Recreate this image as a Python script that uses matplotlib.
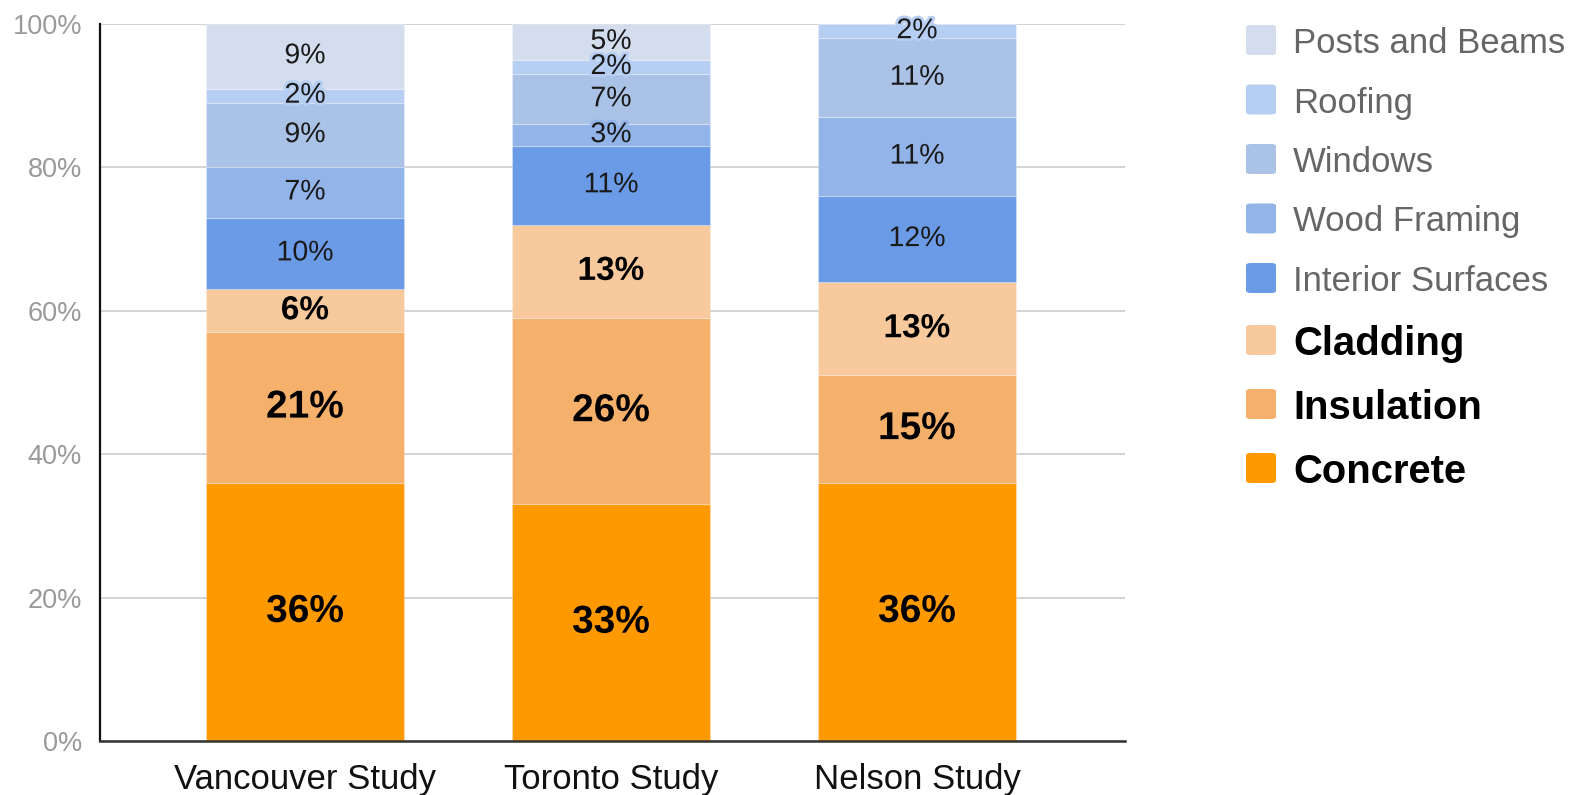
import matplotlib
matplotlib.use("Agg")
import matplotlib.pyplot as plt
import matplotlib.patheffects as pe
from matplotlib.patches import FancyBboxPatch
import numpy as np

plt.rcParams['font.family'] = ['Liberation Sans', 'DejaVu Sans']

studies = ["Vancouver Study", "Toronto Study", "Nelson Study"]
series = ["Concrete", "Insulation", "Cladding", "Interior Surfaces",
          "Wood Framing", "Windows", "Roofing", "Posts and Beams"]
concrete = [36, 33, 36]
insulation = [21, 26, 15]
cladding = [6, 13, 13]
interior = [10, 11, 12]
wood_framing = [7, 3, 11]
windows = [9, 7, 11]
roofing = [2, 2, 2]
posts_beams = [9, 5, 0]
values = [concrete, insulation, cladding, interior, wood_framing, windows, roofing, posts_beams]
colors = ["#ff9900", "#f5b06b", "#f8c99d", "#6b9be6", "#93b4e8", "#abc2e7", "#b7cef3", "#d4ddee"]
bold_series = {"Concrete", "Insulation", "Cladding"}
label_sizes = {"Concrete": 28, "Insulation": 28, "Cladding": 24}
yticks = [0, 20, 40, 60, 80, 100]
ytick_labels = ["0%", "20%", "40%", "60%", "80%", "100%"]

fig = plt.figure(figsize=(15.73, 7.95), dpi=100)
ax = fig.add_axes([100/1573, 54/795, 1025/1573, 717/795])

x = np.arange(len(studies))
bottom = np.zeros(len(studies))
for name, vals, col in zip(series, values, colors):
    vals = np.array(vals, dtype=float)
    ax.bar(x, vals, bottom=bottom, width=0.647, color=col,
           edgecolor=(1, 1, 1, 0.25), linewidth=0.8, zorder=3)
    for xi, v, b in zip(x, vals, bottom):
        if v <= 0:
            continue
        isb = name in bold_series
        ax.text(xi, b + v / 2, f"{int(v)}%", ha="center", va="center",
                fontsize=label_sizes.get(name, 20.5),
                fontweight="bold" if isb else "normal",
                color="#000000" if isb else "#1a1a1a", zorder=5,
                path_effects=[pe.withStroke(linewidth=4, foreground=col)])
    bottom += vals

ax.set_xlim(-0.670, 2.680)
ax.set_ylim(0, 100)
ax.set_yticks(yticks)
ax.set_yticklabels(ytick_labels)
ax.set_xticks(x)
ax.set_xticklabels(studies)
ax.tick_params(axis="y", length=0, pad=13, labelsize=19.5, labelcolor="#9a9a9a")
ax.tick_params(axis="x", length=0, pad=16, labelsize=25, labelcolor="#111111")
ax.grid(axis="y", color="#cccccc", linewidth=1.2, zorder=0)
ax.set_axisbelow(True)
for s in ["top", "right"]:
    ax.spines[s].set_visible(False)
ax.spines["left"].set_color("#111111")
ax.spines["left"].set_linewidth(1.6)
ax.spines["bottom"].set_color("#333333")
ax.spines["bottom"].set_linewidth(1.8)
ax.spines["left"].set_zorder(4)
ax.spines["bottom"].set_zorder(4)

# Legend (top to bottom, reverse of stacking order)
W, H = 1573, 795
ypos = 40
for i, (name, col) in enumerate(zip(series[::-1], colors[::-1])):
    isb = name in bold_series
    if i > 0:
        prev_b = series[::-1][i - 1] in bold_series
        ypos += 64 if (isb and prev_b) else (62 if isb else 59.5)
    fig.add_artist(FancyBboxPatch(((1246) / W, (H - ypos - 15) / H), 30 / W, 30 / H,
                                  boxstyle="round,pad=0,rounding_size=0.003",
                                  transform=fig.transFigure, facecolor=col,
                                  edgecolor="none"))
    fig.text(1293 / W, (H - ypos) / H, name, ha="left", va="center_baseline",
             fontsize=28.8 if isb else 25,
             fontweight="bold" if isb else "normal",
             color="#000000" if isb else "#666666")

fig.savefig("out.png", dpi=100)
